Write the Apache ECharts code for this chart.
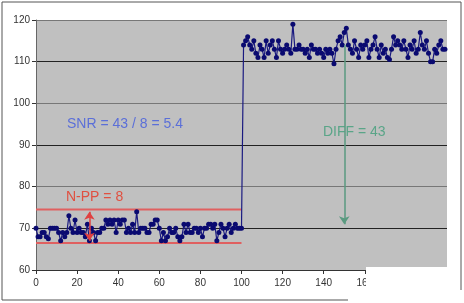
<!DOCTYPE html>
<html><head><meta charset="utf-8">
<script src="https://cdn.jsdelivr.net/npm/echarts@6/dist/echarts.min.js"></script>
<style>html,body{margin:0;padding:0;background:#fff}#c{width:464px;height:303px}</style>
</head><body><div id="c"></div>
<script>
var xTicks = [0,20,40,60,80,100,120,140,160];
var seg1 = [70,68,68,69,69,68,67.5,70,70,70,70,69,67,69,68,69,73,70,69,72,69,70,69,69,68,71,67,70,69,67,69,69,70,70,72,71,72,71,72,69,72,71,72,72,69,70,69,71,69,74,69,70,70,70,69,69,71,71,72,72,70,67,69,67,68,70,69,69,70,68,67,68,71,69,71,69,69,70,70,69,70,68,70,70,71,71,70,71,67,69,71,70,68,70,71,69,70,71,70,70,70];
var seg2 = [114,115,116,114,113,115,112,111,114,113,111,115,112,114,115,113,111,115,113,112,113,114,113,112,119,113,113,114,113,113,112,113,111,114,113,113,112,113,112,111,113,112,113,112,109.5,113,115,116,114,117,118,114,113,112,115,113,111,114,113,114,115,111,113,114,116,113,111,114,112,113,111,110.5,113,116,114,115,114,113,115,113,111,114,113,115,112,113,117,114,113,115,112,110,110,113,112,114,115,113,113];
var values = seg1.concat(seg2);
var upperBand = 74.5, lowerBand = 66.5, bandEnd = 100;
var nppX = 26, nppLow = 67, nppHigh = 74;
var diffX = 150, diffTop = 114, diffBottom = 71;

var pts = values.map(function(v,i){return [i,v];});
var chart = echarts.init(document.getElementById('c'));
var font = '"Liberation Sans", Arial, sans-serif';
chart.setOption({
  animation:false,
  backgroundColor:'#fff',
  grid:{left:36,right:17,top:20,bottom:33,show:true,backgroundColor:'#c0c0c0',borderWidth:0},
  xAxis:{type:'value',min:0,max:200,interval:20,
    axisLine:{lineStyle:{color:'#333',width:1}},
    axisTick:{show:true,length:4,lineStyle:{color:'#333'}},
    splitLine:{show:false},
    axisLabel:{color:'#333',fontSize:10,fontFamily:font,margin:8,
      formatter:function(v){return v<=160?String(v):'';}}
  },
  yAxis:{type:'value',min:60,max:120,interval:10,
    axisLine:{show:true,lineStyle:{color:'#666',width:1}},
    axisTick:{show:true,length:4,lineStyle:{color:'#333'}},
    splitLine:{show:true,lineStyle:{color:['#777','#222'],width:1}},
    axisLabel:{color:'#333',fontSize:10,fontFamily:font,margin:6}
  },
  series:[
    {type:'line',data:[[0,upperBand],[bandEnd,upperBand]],symbol:'none',lineStyle:{color:'#e06060',width:2},z:2},
    {type:'line',data:[[0,lowerBand],[bandEnd,lowerBand]],symbol:'none',lineStyle:{color:'#e06060',width:2},z:2},
    {type:'line',data:pts,symbol:'circle',symbolSize:5,
      itemStyle:{color:'#0a0a70'},lineStyle:{color:'#1a1a80',width:1.2},z:3,
      markLine:{silent:true,animation:false,label:{show:false},
        data:[
          [{coord:[nppX,nppLow],symbol:'arrow',lineStyle:{color:'#e04040',width:1.5,type:'solid'}},{coord:[nppX,nppHigh],symbol:'arrow'}],
          [{coord:[diffX,diffTop],symbol:'none',lineStyle:{color:'#5a9a80',width:1.5,type:'solid'}},{coord:[diffX,diffBottom],symbol:'arrow'}]
        ],
        symbolSize:8
      }
    }
  ],
  graphic:[
    {type:'text',left:67,top:117,style:{text:'SNR = 43 / 8 = 5.4',fill:'#5b6fd8',font:'14px '+font}},
    {type:'text',left:66,top:190,style:{text:'N-PP = 8',fill:'#e05040',font:'14px '+font}},
    {type:'text',left:323,top:125,style:{text:'DIFF = 43',fill:'#5aa588',font:'14px '+font}},
    {type:'rect',shape:{x:366,y:267,width:98,height:36},style:{fill:'#fff'},z:100},
    {type:'polyline',shape:{points:[[348,300],[2,300],[2,2],[461,2],[461,290]]},style:{stroke:'#555',lineWidth:1,fill:null},z:101}
  ]
});
</script></body></html>
